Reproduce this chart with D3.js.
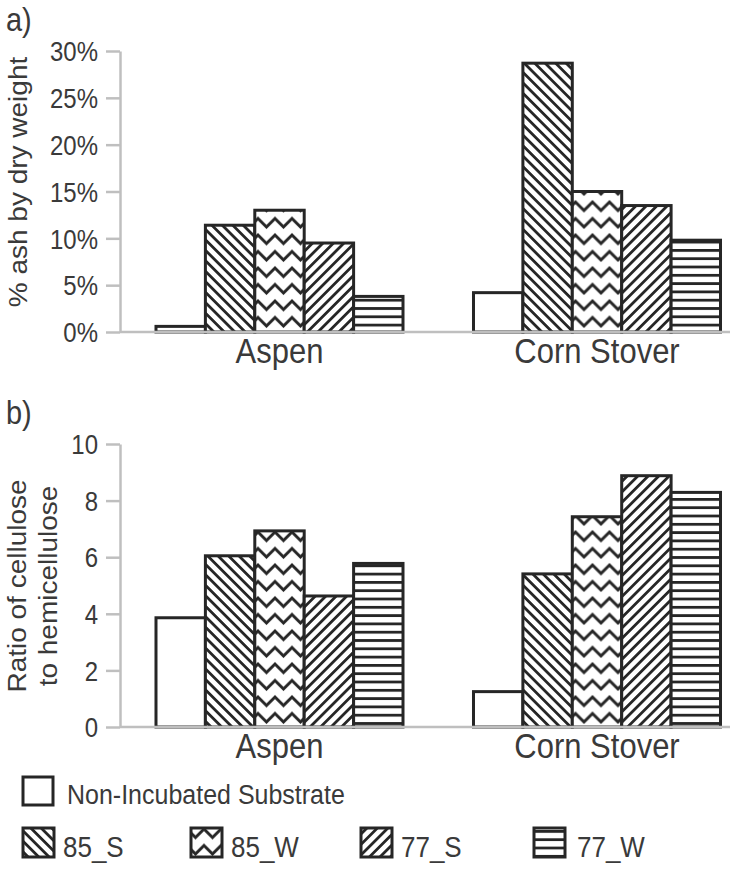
<!DOCTYPE html>
<html>
<head>
<meta charset="utf-8">
<script src="https://cdn.jsdelivr.net/npm/d3@7"></script>
<style>
  html, body { margin: 0; padding: 0; background: #fff; }
  svg { display: block; font-family: "Liberation Sans", Arial, sans-serif; }
</style>
</head>
<body>
<svg id="chart" width="746" height="871"></svg>
<script>
// ---- data ----
const categories = ["Aspen", "Corn Stover"];
const seriesNames = ["Non-Incubated Substrate", "85_S", "85_W", "77_S", "77_W"];
const ashAspen = [0.6, 11.4, 13.0, 9.5, 3.8];
const ashCorn = [4.2, 28.7, 15.0, 13.5, 9.8];
const ratioAspen = [3.86, 6.05, 6.93, 4.63, 5.78];
const ratioCorn = [1.25, 5.41, 7.43, 8.88, 8.29];
const ashTicks = [0, 5, 10, 15, 20, 25, 30];
const ratioTicks = [0, 2, 4, 6, 8, 10];

const ink = "#262626";
const axisGrey = "#bfbfbf";
const textCol = "#3a3a3a";
const VS = 1.12; // vertical stretch of the reference's glyphs

const svg = d3.select("#chart");
const defs = svg.append("defs");

// ---- patterns ----
function linePattern(id, rot, spacing) {
  const p = defs.append("pattern").attr("id", id)
    .attr("patternUnits", "userSpaceOnUse")
    .attr("width", 20).attr("height", spacing)
    .attr("patternTransform", `rotate(${rot})`);
  p.append("rect").attr("width", 20).attr("height", spacing).attr("fill", "#fff");
  p.append("rect").attr("y", 0).attr("width", 20).attr("height", 2.8).attr("fill", ink);
}
linePattern("p85S", 45, 7.4);
linePattern("p77S", -45, 7.4);
linePattern("p77W", 0, 8.3);
(function () {
  const w = 17, h = 16.5;
  const p = defs.append("pattern").attr("id", "p85W")
    .attr("patternUnits", "userSpaceOnUse")
    .attr("width", w).attr("height", h);
  p.append("rect").attr("width", w).attr("height", h).attr("fill", "#fff");
  p.append("path").attr("d", `M-3,1 L${w / 2},${1 + 3 + w / 2} L${w + 3},1`)
    .attr("fill", "none").attr("stroke", ink).attr("stroke-width", 2.8);
})();
const fills = ["#fff", "url(#p85S)", "url(#p85W)", "url(#p77S)", "url(#p77W)"];

// horizontal text with the reference's vertical stretch
function htext(parent, x, y, str, size, anchor) {
  return parent.append("text")
    .attr("transform", `translate(${x},${y}) scale(1,${VS})`)
    .attr("text-anchor", anchor || "start")
    .attr("fill", textCol).style("font-size", size + "px").text(str);
}

// ---- shared x scales ----
const x0 = d3.scaleBand().domain(categories).range([120.75, 755.75])
  .paddingInner(0.222).paddingOuter(0.111);
const x1 = d3.scaleBand().domain(seriesNames).range([0, x0.bandwidth()]).padding(0);

function panel(opts) {
  const y = d3.scaleLinear().domain(opts.domain).range([opts.bottom, opts.top]);
  const g = svg.append("g");
  const rows = categories.map((c, i) => ({ cat: c, vals: opts.values[i] }));
  const grp = g.selectAll("g.cat").data(rows).join("g")
    .attr("transform", d => `translate(${x0(d.cat)},0)`);
  grp.selectAll("rect").data(d => d.vals.map((v, j) => ({ s: seriesNames[j], v, j })))
    .join("rect")
    .attr("x", d => x1(d.s))
    .attr("y", d => y(d.v))
    .attr("width", x1.bandwidth())
    .attr("height", d => y(0) - y(d.v))
    .attr("fill", d => fills[d.j])
    .attr("stroke", ink).attr("stroke-width", 3);

  // y axis
  const ax = d3.axisLeft(y).tickValues(opts.ticks).tickSize(14).tickSizeOuter(0)
    .tickPadding(8).tickFormat(opts.fmt);
  const ag = g.append("g").attr("transform", "translate(120,0)").call(ax);
  ag.select(".domain").attr("stroke", axisGrey).attr("stroke-width", 2.5);
  ag.selectAll(".tick line").attr("stroke", axisGrey).attr("stroke-width", 2.5);
  ag.selectAll(".tick text").attr("fill", textCol)
    .attr("dy", null).attr("y", 0).attr("x", 0)
    .attr("transform", `translate(-22,${0.36 * 24 * VS}) scale(1,${VS})`)
    .style("font-size", "24px").style("font-family", "'Liberation Sans', Arial, sans-serif");

  // x axis line
  g.append("line").attr("x1", 120).attr("x2", 730)
    .attr("y1", y(0)).attr("y2", y(0))
    .attr("stroke", axisGrey).attr("stroke-width", 2.5);
  categories.forEach(c => {
    htext(g, x0(c) + x0.bandwidth() / 2, y(0) + 31, c, 31, "middle");
  });

  // panel letter
  htext(g, 6, opts.letterY, opts.letter, 29);

  // y title
  const t = g.append("text").attr("text-anchor", "middle").attr("fill", textCol)
    .style("font-size", "25px")
    .attr("transform", `translate(0,${opts.titleY}) rotate(-90) scale(${VS},1)`);
  opts.title.forEach((line, i) => {
    t.append("tspan").attr("x", 0).attr("y", opts.titleX[i]).text(line);
  });
}

panel({
  domain: [0, 30], top: 51, bottom: 332, values: [ashAspen, ashCorn],
  ticks: ashTicks, fmt: d => d + "%", letter: "a)", letterY: 31,
  title: ["% ash by dry weight"], titleX: [27], titleY: 182
});
panel({
  domain: [0, 10], top: 444, bottom: 727, values: [ratioAspen, ratioCorn],
  ticks: ratioTicks, fmt: d => d, letter: "b)", letterY: 424,
  title: ["Ratio of cellulose", "to hemicellulose"], titleX: [26, 57], titleY: 586
});

// ---- legend ----
const legend = svg.append("g");
const legendItems = [
  { name: seriesNames[0], fill: fills[0], bx: 23, by: 777, bw: 30, bh: 28, tx: 67, ty: 804, fs: 25 },
  { name: seriesNames[1], fill: fills[1], bx: 23, by: 828, bw: 31, bh: 29, tx: 63, ty: 857, fs: 26 },
  { name: seriesNames[2], fill: fills[2], bx: 191, by: 828, bw: 31, bh: 29, tx: 231, ty: 857, fs: 26 },
  { name: seriesNames[3], fill: fills[3], bx: 361, by: 828, bw: 31, bh: 29, tx: 401, ty: 857, fs: 26 },
  { name: seriesNames[4], fill: fills[4], bx: 534, by: 828, bw: 31, bh: 29, tx: 577, ty: 857, fs: 26 }
];
legendItems.forEach(d => {
  legend.append("rect").attr("x", d.bx).attr("y", d.by).attr("width", d.bw).attr("height", d.bh)
    .attr("fill", d.fill).attr("stroke", ink).attr("stroke-width", 3);
  htext(legend, d.tx, d.ty, d.name, d.fs);
});
</script>
</body>
</html>
